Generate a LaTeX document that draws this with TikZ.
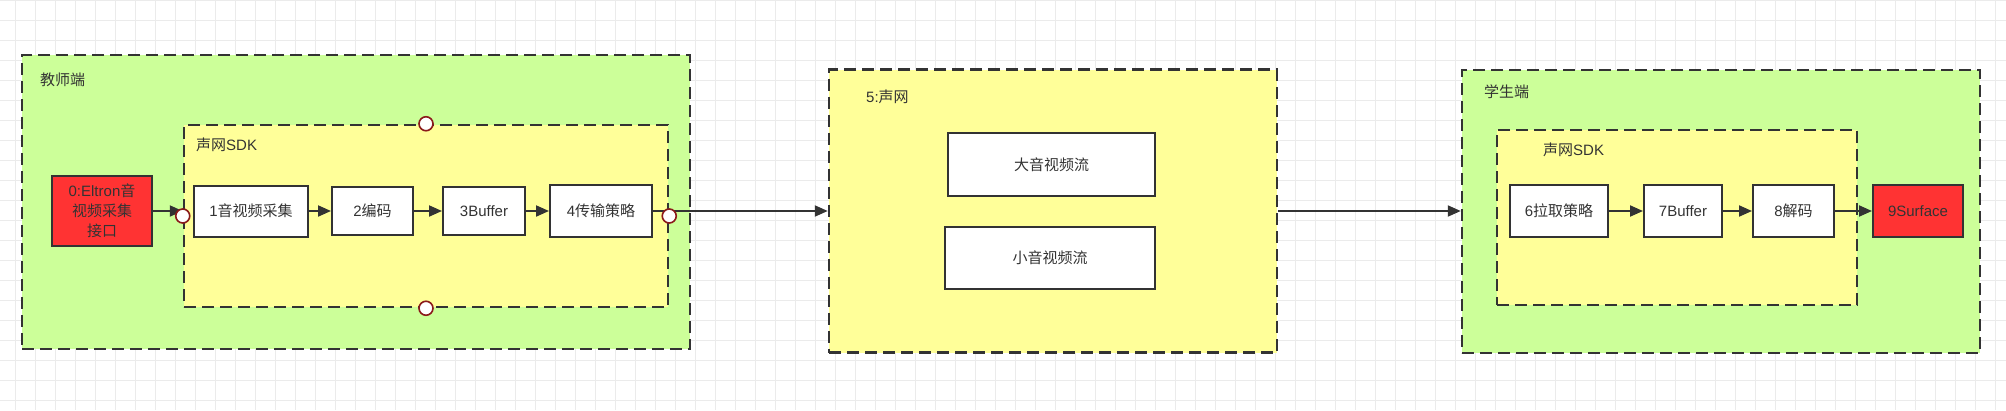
\documentclass[tikz,border=0pt]{standalone}
\usepackage{fontspec}
\setmainfont{Liberation Sans}
\newfontfamily\cjk{Noto Sans CJK SC}
\newcommand\zh[1]{{\cjk #1}}
\usetikzlibrary{arrows.meta}
\definecolor{gridc}{HTML}{EBEBEB}
\definecolor{greenf}{HTML}{CCFF99}
\definecolor{yellowf}{HTML}{FFFF99}
\definecolor{redf}{HTML}{FF3333}
\definecolor{darkln}{HTML}{333333}
\definecolor{ringc}{HTML}{8B1A1A}
\tikzset{
  gridline/.style={draw=gridc, line width=1pt},
  container/.style={rectangle, draw=darkln, line width=2.5pt, dash pattern=on 12pt off 6pt, inner sep=0pt},
  outergreen/.style={container, fill=greenf},
  inneryellow/.style={container, fill=yellowf},
  stepbox/.style={rectangle, draw=darkln, line width=2pt, fill=white, inner sep=0pt, align=center, font=\fontsize{15}{20}\selectfont, text=darkln},
  redbox/.style={stepbox, fill=redf},
  lbl/.style={anchor=west, inner sep=0pt, font=\fontsize{15}{18}\selectfont, text=darkln},
  ring/.style={circle, draw=ringc, fill=white, line width=1.6pt, minimum size=14pt, inner sep=0pt},
  arr/.style={draw=darkln, line width=2pt, -{Triangle[length=13pt,width=11pt]}},
}
\begin{document}
\begin{tikzpicture}[x=1pt,y=-1pt]
\useasboundingbox (0,0) rectangle (2006,410);
\fill[white] (0,0) rectangle (2006,410);
\foreach \x in {15,35,...,2005} \draw[gridline] (\x,0) -- (\x,410);
\foreach \y in {0,20,...,400} \draw[gridline] (0,\y) -- (2006,\y);

% teacher side
\node[outergreen, minimum width=668pt, minimum height=294pt] (teacher) at (356,202) {};
\node[lbl] (tlabel) at (40,80) {\zh{教师端}};
\node[inneryellow, minimum width=484pt, minimum height=182pt] (tsdk) at (426,216) {};
\node[lbl] (tsdklabel) at (196,145) {\zh{声网}SDK};
\node[redbox, minimum width=100pt, minimum height=70pt] (red0) at (102,211) {0:Eltron\zh{音}\\\zh{视频采集}\\\zh{接口}};
\node[stepbox, minimum width=114pt, minimum height=51pt] (b1) at (251,211) {1\zh{音视频采集}};
\node[stepbox, minimum width=81pt, minimum height=48pt] (b2) at (372.5,211) {2\zh{编码}};
\node[stepbox, minimum width=82pt, minimum height=48pt] (b3) at (484,211) {3Buffer};
\node[stepbox, minimum width=102pt, minimum height=52pt] (b4) at (601,211) {4\zh{传输策略}};

% middle
\node[inneryellow, minimum width=448pt, minimum height=283pt] (box5) at (1053,211) {};
\node[lbl] (l5) at (866,97) {5:\zh{声网}};
\node[stepbox, minimum width=207pt, minimum height=63pt] (big) at (1051.5,164.5) {\zh{大音视频流}};
\node[stepbox, minimum width=210pt, minimum height=62pt] (small) at (1050,258) {\zh{小音视频流}};

% student side
\node[outergreen, minimum width=518pt, minimum height=283pt] (student) at (1721,211.5) {};
\node[lbl] (slabel) at (1484,92) {\zh{学生端}};
\node[inneryellow, minimum width=360pt, minimum height=175pt] (ssdk) at (1677,217.5) {};
\node[lbl] (ssdklabel) at (1543,150) {\zh{声网}SDK};
\node[stepbox, minimum width=98pt, minimum height=52pt] (b6) at (1559,211) {6\zh{拉取策略}};
\node[stepbox, minimum width=78pt, minimum height=52pt] (b7) at (1683,211) {7Buffer};
\node[stepbox, minimum width=81pt, minimum height=52pt] (b8) at (1793.5,211) {8\zh{解码}};
\node[redbox, minimum width=90pt, minimum height=52pt] (b9) at (1918,211) {9Surface};

% connectors
\draw[arr] (red0.east) -- (red0.east -| tsdk.west);
\draw[arr] (b1) -- (b2);
\draw[arr] (b2) -- (b3);
\draw[arr] (b3) -- (b4);
\draw[arr] (b4.east) -- (b4.east -| box5.west);
\draw[arr] (box5.east) -- (box5.east -| student.west);
\draw[arr] (b6) -- (b7);
\draw[arr] (b7) -- (b8);
\draw[arr] (b8) -- (b9);

% connection rings on SDK frame
\node[ring] (rl) at (tsdk.west) {};
\node[ring] (rr) at (tsdk.east) {};
\node[ring] (rt) at (tsdk.north) {};
\node[ring] (rb) at (tsdk.south) {};
\end{tikzpicture}
\end{document}
